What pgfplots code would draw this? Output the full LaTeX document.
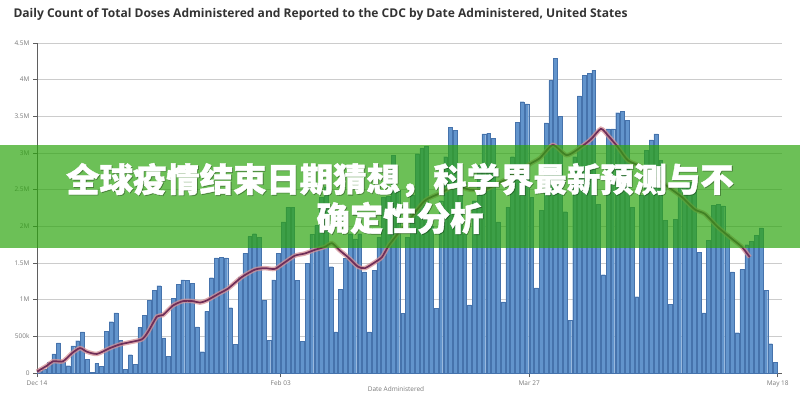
\documentclass[border=0pt]{standalone}
\usepackage{fontspec}
\setmainfont{Open Sans}
\newfontfamily\cjk[BoldFeatures={FakeBold=1.3}]{Noto Sans CJK SC}
\usepackage{pgfplots}
\pgfplotsset{compat=1.18}
\usepackage{pgfplotstable}
\definecolor{barblue}{RGB}{98,148,204}
\definecolor{baredge}{RGB}{70,115,172}
\definecolor{gridgray}{RGB}{204,204,204}
\definecolor{axisgray}{RGB}{95,95,95}
\definecolor{ticktext}{RGB}{120,120,120}
\definecolor{halo}{RGB}{214,146,150}
\definecolor{core}{RGB}{112,45,88}
\definecolor{banner}{RGB}{45,165,15}
\definecolor{titlegray}{RGB}{51,51,51}

\pgfplotstableread{
d v
0 0.03
1 0.05
2 0.15
3 0.26
4 0.41
5 0.15
6 0.10
7 0.37
8 0.44
9 0.56
10 0.19
11 0.01
12 0.13
13 0.09
14 0.57
15 0.70
16 0.82
17 0.45
18 0.05
19 0.25
20 0.12
21 0.62
22 0.79
23 0.99
24 1.13
25 1.19
26 0.48
27 0.23
28 1.02
29 1.21
30 1.27
31 1.26
32 1.22
33 0.63
34 0.29
35 0.84
36 1.30
37 1.57
38 1.58
39 1.57
40 0.89
41 0.39
42 1.31
43 1.63
44 1.86
45 1.90
46 1.85
47 0.99
48 0.45
49 1.27
50 1.63
51 2.06
52 2.26
53 2.26
54 1.26
55 0.43
56 1.50
57 1.89
58 2.01
59 2.40
60 2.54
61 1.45
62 0.56
63 1.14
64 1.56
65 1.90
66 1.83
67 1.90
68 1.38
69 0.56
70 1.40
71 1.85
72 2.40
73 2.41
74 2.97
75 2.50
76 0.81
77 1.85
78 2.42
79 2.99
80 3.06
81 3.09
82 2.00
83 0.88
84 2.35
85 2.95
86 3.35
87 3.31
88 2.50
89 1.90
90 0.93
91 2.35
92 2.83
93 3.26
94 3.27
95 3.20
96 2.06
97 0.97
98 2.26
99 2.95
100 3.42
101 3.70
102 3.67
103 2.40
104 1.16
105 2.22
106 3.41
107 3.99
108 4.29
109 3.50
110 2.20
111 0.72
112 2.95
113 3.78
114 4.06
115 4.09
116 4.13
117 2.30
118 1.34
119 3.33
120 3.33
121 3.55
122 3.57
123 3.45
124 2.26
125 1.04
126 2.42
127 3.04
128 3.18
129 3.26
130 2.90
131 2.08
132 0.94
133 2.10
134 2.54
135 2.54
136 2.60
137 2.50
138 1.65
139 0.82
140 1.81
141 2.29
142 2.30
143 2.28
144 1.90
145 1.38
146 0.55
147 1.41
148 1.75
149 1.80
150 1.88
151 1.98
152 1.13
153 0.40
154 0.15
}\bars

\pgfplotstableread{
x v
0 0.02
2.09 0.10
3.35 0.16
5.44 0.16
7.32 0.27
9.0 0.34
10.46 0.29
12.55 0.26
15.27 0.34
17.36 0.39
19.46 0.42
21.97 0.46
23.22 0.56
25.1 0.77
26.36 0.79
28.45 0.92
30.54 0.98
32.64 0.98
34.1 0.96
35.56 0.99
38.28 1.09
39.96 1.15
42.89 1.31
45.61 1.41
47.7 1.43
49.79 1.42
51.88 1.51
53.97 1.60
56.07 1.63
58.16 1.68
60.25 1.72
61.72 1.77
63.39 1.67
65.06 1.58
67.15 1.45
68.62 1.43
70.71 1.51
72.18 1.58
73.43 1.72
74.9 1.85
78.03 2.10
81.17 2.35
84.31 2.45
87.45 2.55
90.59 2.50
93.72 2.50
96.86 2.60
100.0 2.70
103.14 2.85
105.23 2.93
107.95 3.11
110.88 2.97
114.23 3.10
116.11 3.20
118.0 3.33
119.46 3.24
121.55 3.08
123.64 2.90
126.57 2.81
129.29 2.67
132.01 2.54
134.94 2.40
137.66 2.23
139.75 2.17
142.47 1.99
145.4 1.83
147.49 1.72
149.16 1.58
}\avg

\begin{document}
\begin{tikzpicture}[x=1bp,y=1bp]
\clip (0,0) rectangle (800,394);
\begin{axis}[
  at={(37bp,21bp)}, anchor=south west,
  scale only axis, width=745bp, height=330bp,
  xmin=0, xmax=155.9, ymin=0, ymax=4.5,
  axis x line*=bottom, axis y line*=left,
  axis line style={axisgray, line width=0.9bp, -},
  tick style={axisgray, line width=0.7bp},
  tick align=outside, major tick length=4bp,
  ytick={0,0.5,1,1.5,2,2.5,3,3.5,4,4.5},
  yticklabels={0,500k,1M,1.5M,2M,2.5M,3M,3.5M,4M,4.5M},
  xtick={0,51,103,155},
  xticklabels={Dec 14,Feb 03,Mar 27,May 18},
  ymajorgrids, grid style={gridgray, line width=0.8bp},
  yticklabel style={font=\fontsize{6.5}{7}\selectfont, text=ticktext},
  xticklabel style={font=\fontsize{6.5}{7}\selectfont, text=ticktext},
  /pgf/number format/assume math mode=true,
  clip=false,
]
\addplot[ybar, bar width=3.8bp, bar shift=0pt, fill=barblue, draw=baredge, line width=0.3bp]
  table[x expr=\thisrow{d}+0.5, y=v]{\bars};
\addplot[halo, line width=4.5bp, opacity=0.75, smooth, tension=0.4] table[x=x, y=v]{\avg};
\addplot[core, line width=1.7bp, smooth, tension=0.4] table[x=x, y=v]{\avg};
\end{axis}
\fill[banner, opacity=0.7] (0,146) rectangle (800,249);
\node[text=black, opacity=0.25, font=\cjk\bfseries\fontsize{33.5}{40}\selectfont] at (400.8,213.2) {全球疫情结束日期猜想，科学界最新预测与不};
\node[text=black, opacity=0.25, font=\cjk\bfseries\fontsize{33.5}{40}\selectfont] at (400.8,175.2) {确定性分析};
\node[text=white, font=\cjk\bfseries\fontsize{33.5}{40}\selectfont] at (400,214) {全球疫情结束日期猜想，科学界最新预测与不};
\node[text=white, font=\cjk\bfseries\fontsize{33.5}{40}\selectfont] at (400,176) {确定性分析};
\node[anchor=west, text=titlegray, font=\bfseries\fontsize{12.1}{14}\selectfont] at (10,380) {Daily Count of Total Doses Administered and Reported to the CDC by Date Administered, United States};
\node[text=ticktext, font=\fontsize{6.5}{7}\selectfont] at (396,5) {Date Administered};
\end{tikzpicture}
\end{document}
